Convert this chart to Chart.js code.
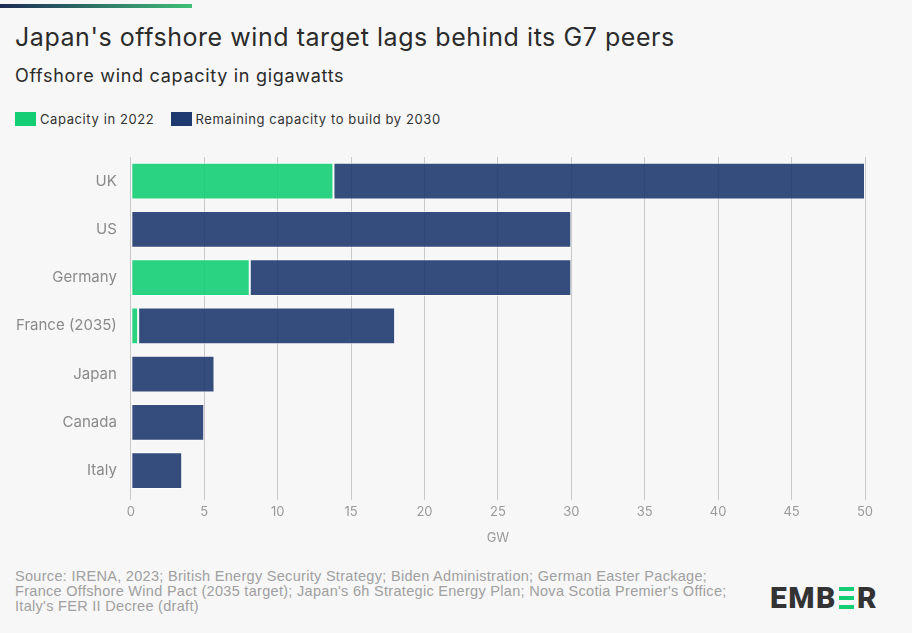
<!DOCTYPE html>
<html>
<head>
<meta charset="utf-8">
<script src="https://cdn.jsdelivr.net/npm/chart.js@4"></script>
<style>
  body { margin: 0; background: #f7f7f7; font-family: "Inter", sans-serif; }
  #wrap { position: relative; width: 912px; height: 633px; overflow: hidden; }
  #bar { position: absolute; left: 0; top: 4px; width: 192px; height: 4px;
         background: linear-gradient(to right, #1e2a55, #3fbf78); }
  h1 { position: absolute; left: 15px; top: 22px; margin: 0; font-size: 25px; font-weight: 400; color: #2b2b2b; letter-spacing: 0.55px; }
  h2 { position: absolute; left: 15px; top: 65px; margin: 0; font-size: 18px; font-weight: 400; color: #2b2b2b; letter-spacing: 0.7px; }
  #legend { position: absolute; left: 15px; top: 111px; font-size: 13px; color: #333; letter-spacing: 0.6px; }
  #legend span.sw { display: inline-block; width: 21px; height: 14px; vertical-align: -2px; margin-right: 4px; }
  #legend span.it { margin-right: 12px; }
  #chartBox { position: absolute; left: 0; top: 142px; width: 900px; height: 408px; }
  #source { position: absolute; left: 15px; top: 569px; font-family: "Liberation Sans", sans-serif;
            font-size: 14.5px; line-height: 15px; color: #a0a0a0; letter-spacing: 0.3px; }
  #logo { position: absolute; left: 770px; top: 580px; font-family: "Roboto", sans-serif; font-weight: 900;
          font-size: 30px; color: #333; letter-spacing: 1.5px; }
  #logo .e { display: inline-block; width: 15px; height: 22px; position: relative; vertical-align: -1px; margin: 0 3px 0 2px; }
  #logo .e i { position: absolute; left: 0; width: 15px; height: 4px; background: #13ce74; }
</style>
</head>
<body>
<div id="wrap">
  <div id="bar"></div>
  <h1>Japan's offshore wind target lags behind its G7 peers</h1>
  <h2>Offshore wind capacity in gigawatts</h2>
  <div id="legend">
    <span class="it"><span class="sw" style="background:#13ce74"></span>Capacity in 2022</span>
    <span class="it"><span class="sw" style="background:#1e3a6e"></span>Remaining capacity to build by 2030</span>
  </div>
  <div id="chartBox"><canvas id="myChart"></canvas></div>
  <div id="source">Source: IRENA, 2023; British Energy Security Strategy; Biden Administration; German Easter Package;<br>France Offshore Wind Pact (2035 target); Japan's 6h Strategic Energy Plan; Nova Scotia Premier's Office;<br>Italy's FER II Decree (draft)</div>
  <div id="logo">EMB<span class="e"><i style="top:0"></i><i style="top:9px"></i><i style="top:18px"></i></span>R</div>
</div>
<script>
const countries = ['UK', 'US', 'Germany', 'France (2035)', 'Japan', 'Canada', 'Italy'];
const capacity2022 = [13.8, 0, 8.1, 0.5, 0, 0, 0];
const remaining = [36.2, 30, 21.9, 17.5, 5.7, 5, 3.5];
const xTicks = [0, 5, 10, 15, 20, 25, 30, 35, 40, 45, 50];

const ctx = document.getElementById('myChart');

new Chart(ctx, {
  type: 'bar',
  data: {
    labels: countries,
    datasets: [{
      label: 'Capacity in 2022',
      data: capacity2022,
      backgroundColor: 'rgba(19, 206, 116, 0.9)',
      borderColor: 'rgba(255,255,255,0.7)',
      borderWidth: 1,
      borderSkipped: false
    }, {
      label: 'Remaining capacity to build by 2030',
      data: remaining,
      backgroundColor: 'rgba(30, 58, 110, 0.9)',
      borderColor: 'rgba(255,255,255,0.7)',
      borderWidth: 1,
      borderSkipped: false
    }]
  },
  options: {
    indexAxis: 'y',
    responsive: true,
    maintainAspectRatio: false,
    animation: false,
    barPercentage: 0.76,
    categoryPercentage: 1,
    layout: { padding: { top: 7, right: 35, left: 10, bottom: 0 } },
    plugins: {
      legend: { display: false },
      tooltip: { enabled: false }
    },
    scales: {
      x: {
        stacked: true,
        min: 0,
        max: 50,
        afterBuildTicks: axis => { axis.ticks = xTicks.map(v => ({ value: v })); },
        grid: { color: '#c8c8c8', tickLength: 5 },
        border: { display: false },
        ticks: { color: '#999', font: { family: 'Inter', size: 13 }, padding: 4 },
        title: { display: true, text: 'GW', color: '#999', font: { family: 'Inter', size: 13 }, padding: { top: 7 } }
      },
      y: {
        stacked: true,
        grid: { display: false },
        border: { display: false },
        ticks: { color: '#8a8a8a', font: { family: 'Inter', size: 15 }, padding: 6 }
      }
    }
  }
});
</script>
</body>
</html>
